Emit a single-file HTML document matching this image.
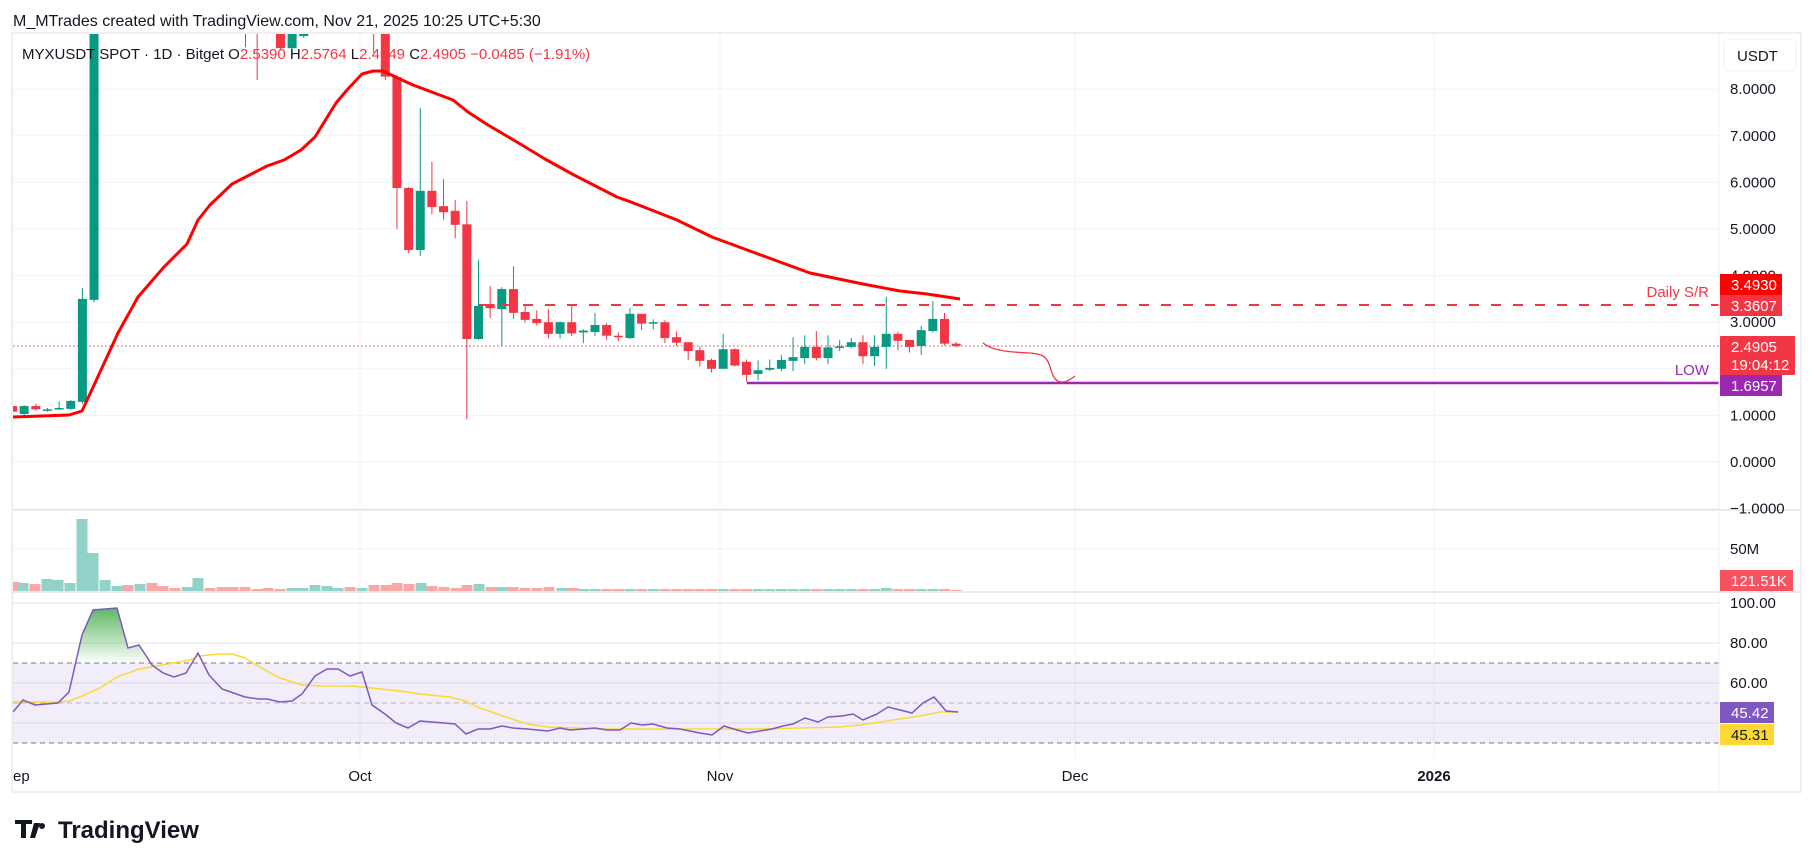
<!DOCTYPE html>
<html><head><meta charset="utf-8"><style>
html,body{margin:0;padding:0;background:#fff;width:1814px;height:868px;overflow:hidden;font-family:"Liberation Sans",sans-serif;}
svg text{font-family:"Liberation Sans",sans-serif;}
</style></head><body>
<svg id="s" width="1814" height="868" xmlns="http://www.w3.org/2000/svg">
<defs>
<clipPath id="pc"><rect x="13" y="34" width="1706" height="475"/></clipPath>
<clipPath id="vc"><rect x="13" y="511" width="1706" height="80"/></clipPath>
<linearGradient id="gf" x1="0" y1="0" x2="0" y2="1"><stop offset="0" stop-color="#4caf50" stop-opacity="0.9"/><stop offset="1" stop-color="#4caf50" stop-opacity="0.02"/></linearGradient>
</defs>
<text x="13" y="26" font-size="16" fill="#131722">M_MTrades created with TradingView.com, Nov 21, 2025 10:25 UTC+5:30</text>
<g id="grid" stroke="#f0f3fa" stroke-width="1"></g>
<rect x="13" y="663" width="1706" height="80" fill="#7e57c2" fill-opacity="0.1"/>
<g id="main" clip-path="url(#pc)"></g>
<g id="vol" clip-path="url(#vc)"></g>
<g id="rsi"></g>
<rect x="12" y="33" width="1789" height="759" fill="none" stroke="#f0f0f0" stroke-width="2"/>
<line x1="13" y1="510" x2="1801" y2="510" stroke="#e0e3eb" stroke-width="1.5"/>
<line x1="13" y1="592" x2="1801" y2="592" stroke="#e0e3eb" stroke-width="1.5"/>
<line x1="1719" y1="34" x2="1719" y2="792" stroke="#f0f0f0" stroke-width="1"/>
<text x="22" y="59" font-size="15" fill="#131722">MYXUSDT SPOT · 1D · Bitget  O<tspan fill="#f23645">2.5390</tspan>  H<tspan fill="#f23645">2.5764</tspan>  L<tspan fill="#f23645">2.4649</tspan>  C<tspan fill="#f23645">2.4905</tspan>  <tspan fill="#f23645">−0.0485 (−1.91%)</tspan></text>
<rect x="1724" y="39" width="72" height="32" rx="5" fill="#fff" stroke="#eef0f3"/>
<text x="1737" y="61" font-size="15" fill="#131722">USDT</text>
<g id="axis" font-size="15" fill="#131722"></g>
<text x="1709" y="297" font-size="15" fill="#f23645" text-anchor="end">Daily S/R</text>
<text x="1709" y="375" font-size="15" fill="#9c27b0" text-anchor="end">LOW</text>
<rect x="1720" y="274" width="62" height="21" fill="#ff0000"/><text x="1731" y="290" font-size="15" fill="#fff">3.4930</text>
<rect x="1720" y="295" width="62" height="21" fill="#f23645"/><text x="1731" y="311" font-size="15" fill="#fff">3.3607</text>
<rect x="1720" y="336" width="75" height="39" rx="1" fill="#f23645"/><text x="1731" y="352" font-size="15" fill="#fff">2.4905</text><text x="1731" y="370" font-size="15" fill="#fff">19:04:12</text>
<rect x="1720" y="375" width="62" height="21" fill="#9c27b0"/><text x="1731" y="391" font-size="15" fill="#fff">1.6957</text>
<rect x="1720" y="570" width="73" height="21" fill="#f7525f"/><text x="1731" y="586" font-size="15" fill="#fff">121.51K</text>
<rect x="1720" y="702" width="54" height="21" fill="#7e57c2"/><text x="1731" y="718" font-size="15" fill="#fff">45.42</text>
<rect x="1720" y="724" width="54" height="21" fill="#fdd835"/><text x="1731" y="740" font-size="15" fill="#131722">45.31</text>
<g font-size="15" fill="#131722">
<text x="13" y="781">ep</text><text x="360" y="781" text-anchor="middle">Oct</text><text x="720" y="781" text-anchor="middle">Nov</text><text x="1075" y="781" text-anchor="middle">Dec</text><text x="1434" y="781" text-anchor="middle" font-weight="bold">2026</text>
</g>
<g>
<path d="M15 820 h17 v4 h-6 v14 h-5 v-14 h-6z M34 823 h6 l-5 15 h-5z" fill="#131722"/>
<circle cx="42" cy="826" r="3" fill="#131722"/>
<text x="58" y="838" font-size="24" font-weight="bold" fill="#131722">TradingView</text>
</g>
</svg>
<script>
var NS="http://www.w3.org/2000/svg";
function el(p,t,a){var e=document.createElementNS(NS,t);for(var k in a)e.setAttribute(k,a[k]);p.appendChild(e);return e;}
var G=document.getElementById('grid'),M=document.getElementById('main'),V=document.getElementById('vol'),R=document.getElementById('rsi'),A=document.getElementById('axis');
function Y(p){return 462-46.6*p;}
function X(d){return 362+11.65*d;}
for(var p=-1;p<=8;p++){var y=Y(p);el(G,'line',{x1:13,y1:y,x2:1719,y2:y});var t=el(A,'text',{x:1730,y:y+5});t.textContent=(p<0?'−1.0000':p+'.0000');}
[13,360,720,1075,1434].forEach(function(x){el(G,'line',{x1:x,y1:34,x2:x,y2:758});});
el(G,'line',{x1:13,y1:549,x2:1719,y2:549});
[100,80,60,40].forEach(function(v){var y=603+(100-v)*2;el(G,'line',{x1:13,y1:y,x2:1719,y2:y,stroke:'#e6e3ef'});});
var t=el(A,'text',{x:1730,y:554});t.textContent='50M';
[[100,603],[80,643],[60,683]].forEach(function(a){var t=el(A,'text',{x:1730,y:a[1]+5});t.textContent=a[0].toFixed(2);});
[[663,'#787b86'],[703,'#b2b5be'],[743,'#787b86']].forEach(function(a){el(R,'line',{x1:13,y1:a[0],x2:1719,y2:a[0],stroke:a[1],'stroke-dasharray':'5 4','stroke-width':1});});
var C=[[-30,1.2,1.25,1.05,1.08],[-29,1.03,1.22,1.0,1.2],[-28,1.2,1.25,1.1,1.13],[-27,1.11,1.16,1.08,1.13],[-26,1.14,1.3,1.12,1.16],[-25,1.14,1.33,1.12,1.31],[-24,1.29,3.73,1.25,3.5],[-23,3.48,12,3.43,11],
[-10,10,10,8.9,9.5],[-9,10,10,8.2,9.8],[-7,9.5,10,8.85,8.88],[-6,8.88,10,8.7,9.5],[-5,9.14,10,9.1,9.6],[1,9.5,10,8.78,9.2],[2,9.5,10,8.2,8.27],
[3,8.26,8.3,5.0,5.88],[4,5.88,5.9,4.48,4.55],[5,4.55,7.6,4.42,5.82],[6,5.82,6.44,5.32,5.47],[7,5.49,6.07,5.2,5.36],[8,5.39,5.62,4.8,5.09],[9,5.1,5.6,0.92,2.64],[10,2.64,4.33,2.62,3.35],[11,3.39,3.78,3.09,3.3],[12,3.28,3.75,2.49,3.71],[13,3.71,4.2,3.07,3.2],[14,3.22,3.35,2.99,3.05],[15,3.07,3.25,2.93,2.98],[16,3.0,3.28,2.65,2.75],[17,2.75,3.02,2.65,3.0],[18,3.0,3.37,2.7,2.76],[19,2.78,2.85,2.55,2.82],[20,2.79,3.2,2.7,2.94],[21,2.94,2.98,2.62,2.71],[22,2.71,2.78,2.6,2.69],[23,2.66,3.31,2.64,3.18],[24,3.18,3.18,2.83,2.97],[25,2.98,3.06,2.84,3.0],[26,3.0,3.04,2.55,2.66],[27,2.68,2.8,2.49,2.56],[28,2.57,2.57,2.19,2.38],[29,2.4,2.48,2.05,2.17],[30,2.19,2.22,1.92,2.0],[31,2.0,2.75,2.0,2.42],[32,2.42,2.44,2.05,2.07],[33,2.15,2.2,1.72,1.87],[34,1.89,2.18,1.75,1.97],[35,1.98,2.2,1.95,2.02],[36,2.0,2.3,1.95,2.19],[37,2.17,2.68,1.95,2.25],[38,2.23,2.72,2.1,2.47],[39,2.47,2.81,2.18,2.23],[40,2.23,2.72,2.1,2.46],[41,2.45,2.62,2.38,2.48],[42,2.47,2.66,2.44,2.57],[43,2.57,2.72,2.1,2.27],[44,2.27,2.72,2.06,2.47],[45,2.47,3.54,2.0,2.75],[46,2.75,2.8,2.4,2.6],[47,2.62,2.62,2.35,2.47],[48,2.49,2.92,2.3,2.83],[49,2.81,3.45,2.78,3.07],[50,3.07,3.2,2.5,2.54],[51,2.54,2.58,2.46,2.49]];
el(M,'line',{x1:13,y1:346,x2:1719,y2:346,stroke:'#f23645','stroke-dasharray':'1.5 2.5','stroke-width':1});
C.forEach(function(c){var x=X(c[0]),col=c[4]>=c[1]?'#089981':'#f23645';el(M,'line',{x1:x,y1:Y(c[2]),x2:x,y2:Y(c[3]),stroke:col,'stroke-width':1});var t=Y(Math.max(c[1],c[4])),b=Y(Math.min(c[1],c[4]));el(M,'rect',{x:x-4.5,y:t,width:9,height:Math.max(1.5,b-t),fill:col});});
el(M,'line',{x1:479,y1:305,x2:1719,y2:305,stroke:'#f23645','stroke-dasharray':'10 12','stroke-width':2});
el(M,'line',{x1:747,y1:383,x2:1719,y2:383,stroke:'#9c27b0','stroke-width':2.5});
var ma=[[13,417],[69,415],[82,411],[95,383],[118,333],[138,297],[164,267],[187,244],[198,220],[210,205],[232,184],[267,166],[284,160],[301,150],[315,137],[336,103],[347,90],[362,74],[373,71],[383,71],[402,80],[413,85],[453,100],[468,112],[488,125],[517,142],[545,159],[574,175],[617,197],[631,202],[677,220],[712,237],[769,258],[810,273],[863,284],[900,291],[927,294],[960,299]];
el(M,'polyline',{points:ma.join(' '),fill:'none',stroke:'#ff0000','stroke-width':3,'stroke-linejoin':'round'});
el(M,'path',{d:'M983,343 C992,350 1005,352 1030,353 C1042,354 1046,356 1049,364 C1052,372 1053,382 1062,382 C1068,382 1072,378 1075,376',fill:'none',stroke:'#f23645','stroke-width':1.3});
var vb=[[15,582,0],[23,583,1],[35,584,0],[47,579,1],[58,580,1],[70,583,1],[82,519,1],[93,553,1],[105,580,1],[117,586,1],[128,585,0],[140,584,1],[152,583,0],[163,586,0],[175,588,0],[187,587,1],[198,578,1],[210,588,0],[222,587,0],[233,587,0],[245,587,0],[257,589,0],[268,588,0],[280,589,0],[292,588,1],[303,588,1],[315,585,1],[327,586,1],[338,588,1],[350,587,0],[362,588,1],[374,585,0],[386,585,0],[397,583,0],[409,584,0],[421,583,1],[432,586,0],[444,587,0],[456,588,0],[467,585,0],[479,584,1],[491,587,0],[502,587,1],[513,587,0],[525,588,0],[537,588,0],[549,587,0],[562,588,1],[573,588,0]];
C.filter(function(c){return c[0]>=19;}).forEach(function(c){var x=X(c[0]);vb.push([x,c[0]==45?588:(c[0]==51?590:589),c[4]>=c[1]?1:0]);});
vb.forEach(function(v){el(V,'rect',{x:v[0]-5.5,y:v[1],width:11,height:591-v[1],fill:v[2]?'#92d2c8':'#f7a9a7'});});
var rp=[[13,712],[23,700],[35,705],[58,703],[69,692],[82,635],[93,610],[117,608],[128,648],[139,645],[152,665],[163,673],[174,677],[186,673],[198,653],[209,675],[222,689],[245,697],[258,699],[267,699],[280,702],[292,701],[302,694],[315,676],[327,669],[338,669],[350,676],[362,672],[372,705],[385,714],[396,723],[408,728],[420,721],[432,722],[455,724],[466,734],[478,729],[490,729],[502,726],[513,728],[527,729],[548,731],[560,728],[570,730],[595,728],[607,730],[620,730],[631,723],[642,725],[653,724],[667,728],[680,729],[700,733],[712,735],[724,726],[737,730],[748,733],[760,731],[772,729],[783,726],[793,724],[805,718],[818,722],[828,717],[842,716],[853,714],[863,720],[877,714],[888,707],[900,710],[912,713],[923,703],[934,697],[946,711],[958,712]];
el(R,'path',{d:'M75,663 L82,635 L93,610 L117,608 L128,648 L139,645 L148,663 Z',fill:'url(#gf)'});
var yl=[[13,702],[58,702],[69,701],[82,696],[100,688],[117,677],[139,669],[162,665],[190,660],[198,656],[220,654],[232,654],[245,658],[265,670],[280,678],[302,685],[320,686],[350,686],[372,688],[400,691],[420,694],[450,697],[465,701],[480,708],[500,715],[527,724],[548,727],[600,729],[650,729],[700,729],[760,729],[800,728],[840,727],[860,725],[880,722],[900,719],[920,716],[940,712],[958,712]];
el(R,'polyline',{points:yl.join(' '),fill:'none',stroke:'#fdd835','stroke-width':1.5});
el(R,'polyline',{points:rp.join(' '),fill:'none',stroke:'#7e57c2','stroke-width':1.5});
</script>
</body></html>
